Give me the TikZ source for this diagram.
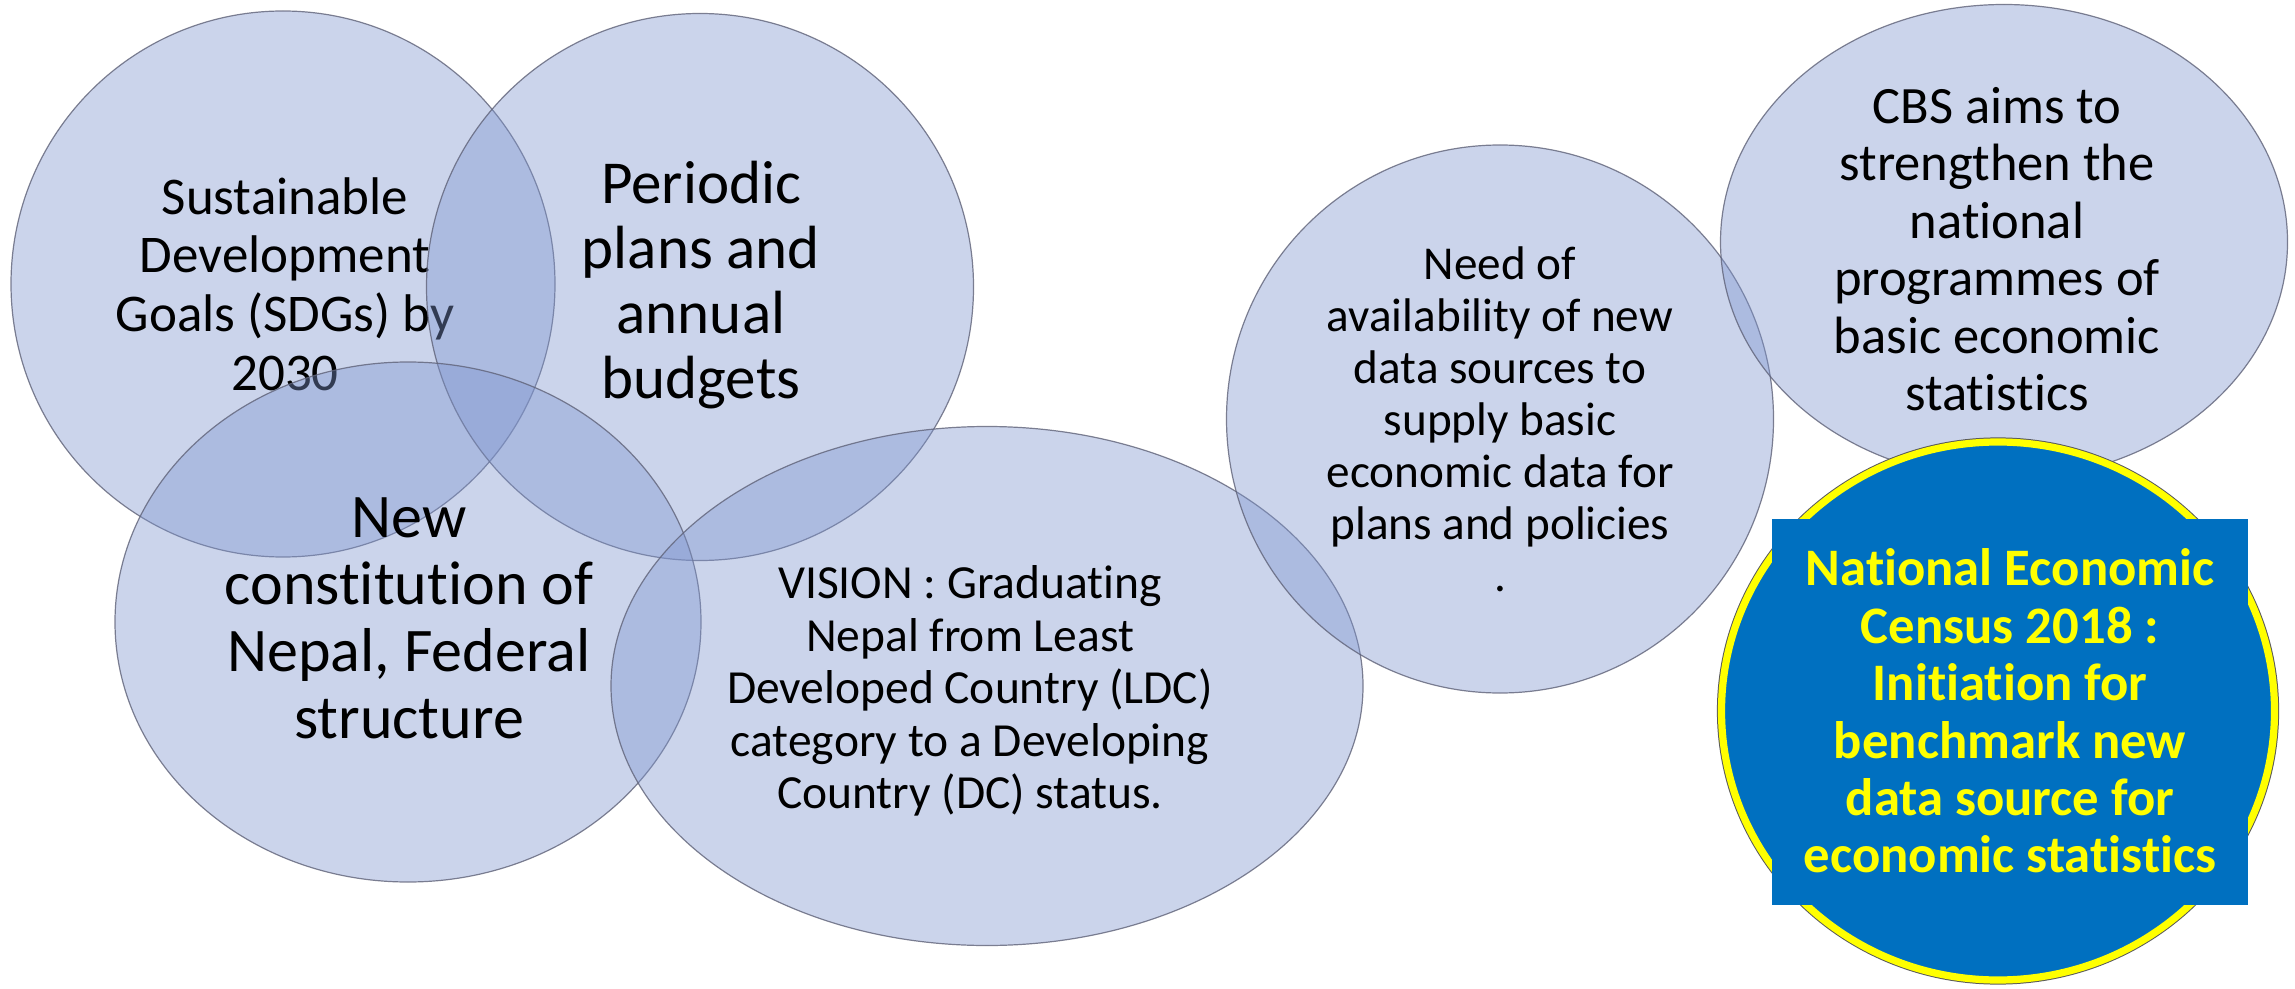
\documentclass[tikz,border=0pt]{standalone}
\usepackage{fontspec}
\setmainfont{Carlito}[Ligatures=NoCommon]
\usetikzlibrary{shapes.geometric}
\definecolor{bubfill}{RGB}{125,148,206}
\definecolor{bubline}{RGB}{95,98,120}
\definecolor{necblue}{RGB}{0,112,192}
\definecolor{necyellow}{RGB}{255,255,0}
\tikzset{
  bub/.style={ellipse, inner sep=0pt, outer sep=0pt, fill=bubfill, fill opacity=0.4,
              draw=bubline, draw opacity=0.8, line width=0.6pt},
  txt/.style={align=center, inner sep=0pt, text=black},
}
\begin{document}
\begin{tikzpicture}[x=0.5pt, y=-0.5pt]
\useasboundingbox (0,0) rectangle (2295,989);

\node[bub, minimum width=272pt, minimum height=273pt] (e1) at (283,284) {};
\node[txt, font=\fontsize{26.5pt}{29.35pt}\selectfont] (t1) at (285,284)
  {Sustainable\\Development\\Goals (SDGs) by\\2030};

\node[bub, minimum width=273.5pt, minimum height=273.5pt] (e2) at (700,287) {};
\node[txt, font=\fontsize{30.5pt}{32.5pt}\selectfont] (t2) at (701,285)
  {Periodic\\plans and\\annual\\budgets};

\node[bub, minimum width=293pt, minimum height=260pt] (e3) at (408,622) {};
\node[txt, font=\fontsize{31pt}{33.5pt}\selectfont] (t3) at (409,618)
  {New\\constitution of\\Nepal, Federal\\structure};

\node[bub, minimum width=376pt, minimum height=259.5pt] (e4) at (987,686) {};
\node[txt, font=\fontsize{23.75pt}{26.3pt}\selectfont] (t4) at (970,691)
  {VISION : Graduating\\Nepal from Least\\Developed Country (LDC)\\category to a Developing\\Country (DC) status.};

\node[bub, minimum width=273.5pt, minimum height=274pt] (e5) at (1500,419) {};
\node[txt, font=\fontsize{23.6pt}{26pt}\selectfont] (t5) at (1500,419)
  {Need of\\availability of new\\data sources to\\supply basic\\economic data for\\plans and policies\\.};

\node[bub, minimum width=283.5pt, minimum height=237.5pt] (e6) at (2004,242) {};
\node[txt, font=\fontsize{26.25pt}{28.75pt}\selectfont] (t6) at (1997,249)
  {CBS aims to\\strengthen the\\national\\programmes of\\basic economic\\statistics};

\node[ellipse, inner sep=0pt, outer sep=0pt, minimum width=276.5pt, minimum height=269pt,
      fill=necblue, draw=necyellow, line width=3.6pt,
      preaction={draw=black!65, line width=4.6pt}] (e7) at (1998,711) {};
\node[fill=necblue, inner sep=0pt, outer sep=0pt, minimum width=238pt, minimum height=193pt] (r7) at (2010,711.5) {};
\node[txt, text=necyellow, font=\bfseries\fontsize{26.35pt}{28.7pt}\selectfont] (t7) at (2010,711)
  {National Economic\\Census 2018 :\\Initiation for\\benchmark new\\data source for\\economic statistics};
\end{tikzpicture}
\end{document}
